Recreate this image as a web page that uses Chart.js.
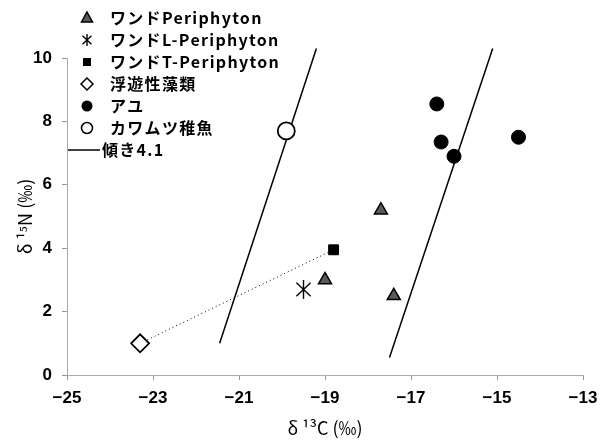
<!DOCTYPE html>
<html>
<head>
<meta charset="utf-8">
<script src="https://cdn.jsdelivr.net/npm/chart.js@4/dist/chart.umd.min.js"></script>
<style>
html, body { margin: 0; background: #fff; }
#wrap { width: 610px; height: 441px; }
</style>
</head>
<body>
<div id="wrap"><canvas id="isotopeChart"></canvas></div>
<script>
// 凡例
var labels = ["ワンドPeriphyton", "ワンドL-Periphyton", "ワンドT-Periphyton", "浮遊性藻類", "アユ", "カワムツ稚魚", "傾き4.1"];

// δ13C / δ15N
var periX = [-19.0, -17.7, -17.4];
var periY = [3.0, 5.2, 2.5];
var lPeriX = [-19.5];
var lPeriY = [2.7];
var tPeriX = [-18.8];
var tPeriY = [3.95];
var phytoX = [-23.3];
var phytoY = [1.0];
var ayuX = [-16.4, -16.3, -16.0, -14.5];
var ayuY = [8.55, 7.35, 6.9, 7.5];
var kawaX = [-19.9];
var kawaY = [7.7];

// 傾き4.1の線 (両端)
var slopeLX = [-21.45, -19.2];
var slopeLY = [1.0, 10.3];
var slopeRX = [-17.5, -15.1];
var slopeRY = [0.55, 10.3];

var xTicks = [-25, -23, -21, -19, -17, -15, -13];
var yTicks = [0, 2, 4, 6, 8, 10];

function pts(xs, ys) {
    return xs.map(function (x, i) { return { x: x, y: ys[i] }; });
}

// アスタリスク (✳) のマーカー
function makeAsterisk(size) {
    var c = document.createElement("canvas");
    c.width = size; c.height = size;
    var g = c.getContext("2d");
    var m = size / 2, r = size / 2 - 1;
    g.strokeStyle = "#000";
    g.lineWidth = 1.4;
    g.beginPath();
    g.moveTo(m, m - r); g.lineTo(m, m + r);
    g.moveTo(m - r * 0.75, m - r * 0.7); g.lineTo(m + r * 0.75, m + r * 0.7);
    g.moveTo(m + r * 0.75, m - r * 0.7); g.lineTo(m - r * 0.75, m + r * 0.7);
    g.stroke();
    return c;
}
var asterBig = makeAsterisk(21);
var asterSmall = makeAsterisk(14);

var minus = function (v) { return String(v).replace("-", "\u2212"); };

var datasets = [
    { label: labels[0], data: pts(periX, periY), pointStyle: "triangle", pointRadius: 7.5,
      backgroundColor: "#5a5a5a", borderColor: "#000", borderWidth: 1.5, showLine: false, legendShape: "triangle" },
    { label: labels[1], data: pts(lPeriX, lPeriY), pointStyle: asterBig, pointRadius: 10,
      showLine: false, legendShape: "aster" },
    { label: labels[2], data: pts(tPeriX, tPeriY), pointStyle: "rect", pointRadius: 7,
      backgroundColor: "#000", borderColor: "#000", borderWidth: 1, showLine: false, legendShape: "square" },
    { label: labels[3], data: pts(phytoX, phytoY), pointStyle: "rectRot", pointRadius: 9,
      backgroundColor: "#fff", borderColor: "#000", borderWidth: 1.8, showLine: false, legendShape: "diamond" },
    { label: labels[4], data: pts(ayuX, ayuY), pointStyle: "circle", pointRadius: 7,
      backgroundColor: "#000", borderColor: "#000", borderWidth: 1, showLine: false, legendShape: "dot" },
    { label: labels[5], data: pts(kawaX, kawaY), pointStyle: "circle", pointRadius: 8.5,
      backgroundColor: "#fff", borderColor: "#000", borderWidth: 1.8, showLine: false, legendShape: "circle" },
    { label: labels[6], data: pts(slopeLX, slopeLY), showLine: true, pointRadius: 0,
      borderColor: "#000", borderWidth: 1.5, clip: false, order: 5, legendShape: "line" },
    { label: labels[6], data: pts(slopeRX, slopeRY), showLine: true, pointRadius: 0,
      borderColor: "#000", borderWidth: 1.5, clip: false, order: 5 },
    { label: "", data: pts(phytoX.concat(tPeriX), phytoY.concat(tPeriY)), showLine: true, pointRadius: 0,
      borderColor: "#000", borderWidth: 1, borderDash: [1, 3], order: 6 }
];

// 左上の凡例を手描き
var legendPlugin = {
    id: "cornerLegend",
    afterDraw: function (chart) {
        var ctx = chart.ctx;
        var sx = 87, tx = 110, y0 = 18, dy = 22;
        ctx.save();
        ctx.font = "bold 16px 'Noto Sans CJK JP'";
        ctx.letterSpacing = "1.3px";
        ctx.textBaseline = "middle";
        var row = 0;
        chart.data.datasets.forEach(function (ds) {
            if (!ds.legendShape) return;
            var y = y0 + row * dy;
            ctx.strokeStyle = "#000";
            ctx.fillStyle = "#000";
            ctx.lineWidth = 1.5;
            ctx.beginPath();
            switch (ds.legendShape) {
                case "triangle":
                    ctx.fillStyle = "#5a5a5a";
                    ctx.moveTo(sx, y - 6); ctx.lineTo(sx + 5.5, y + 4); ctx.lineTo(sx - 5.5, y + 4); ctx.closePath();
                    ctx.fill(); ctx.stroke();
                    break;
                case "aster":
                    ctx.drawImage(asterSmall, sx - 7, y - 7);
                    break;
                case "square":
                    ctx.rect(sx - 4, y - 4, 8, 8); ctx.fill();
                    break;
                case "diamond":
                    ctx.fillStyle = "#fff";
                    ctx.moveTo(sx, y - 6); ctx.lineTo(sx + 6, y); ctx.lineTo(sx, y + 6); ctx.lineTo(sx - 6, y); ctx.closePath();
                    ctx.fill(); ctx.stroke();
                    break;
                case "dot":
                    ctx.arc(sx, y, 5.5, 0, Math.PI * 2); ctx.fill();
                    break;
                case "circle":
                    ctx.fillStyle = "#fff";
                    ctx.arc(sx, y, 5.5, 0, Math.PI * 2); ctx.fill(); ctx.stroke();
                    break;
                case "line":
                    ctx.moveTo(68, y); ctx.lineTo(100, y); ctx.stroke();
                    break;
            }
            ctx.fillStyle = "#000";
            ctx.fillText(ds.label, ds.legendShape === "line" ? 102 : tx, y);
            row++;
        });
        ctx.restore();
    }
};

var config = {
    type: "scatter",
    data: { datasets: datasets },
    options: {
        responsive: true,
        maintainAspectRatio: false,
        animation: false,
        layout: { padding: { top: 58, right: 27, left: 0, bottom: 0 } },
        plugins: {
            legend: { display: false },
            tooltip: { enabled: false }
        },
        scales: {
            x: {
                type: "linear",
                min: -25,
                max: -13,
                afterBuildTicks: function (axis) {
                    axis.ticks = xTicks.map(function (v) { return { value: v }; });
                },
                afterFit: function (axis) { axis.height = 66; },
                ticks: {
                    callback: minus,
                    font: { family: "'Liberation Sans'", size: 17, weight: "bold" },
                    color: "#000",
                    padding: 8,
                    maxRotation: 0
                },
                grid: { drawOnChartArea: false, drawTicks: true, tickLength: 5, color: "#999" },
                border: { color: "#aaa", dash: [1, 2] },
                title: {
                    display: true,
                    text: "δ ¹³C (‰)",
                    font: { family: "'Noto Sans CJK JP'", size: 18 },
                    color: "#000",
                    padding: { top: 0, bottom: 2 }
                }
            },
            y: {
                min: 0,
                max: 10,
                afterBuildTicks: function (axis) {
                    axis.ticks = yTicks.map(function (v) { return { value: v }; });
                },
                afterFit: function (axis) { axis.width = 67; },
                ticks: {
                    font: { family: "'Liberation Sans'", size: 17, weight: "bold" },
                    color: "#000",
                    padding: 10
                },
                grid: { drawOnChartArea: false, drawTicks: true, tickLength: 5, color: "#999" },
                border: { color: "#aaa", dash: [1, 2] },
                title: {
                    display: true,
                    text: "δ ¹⁵N (‰)",
                    font: { family: "'Noto Sans CJK JP'", size: 18 },
                    color: "#000",
                    padding: { top: 14, bottom: 0 }
                }
            }
        }
    },
    plugins: [legendPlugin]
};

var isotopeChart = new Chart(document.getElementById("isotopeChart"), config);
</script>
</body>
</html>
